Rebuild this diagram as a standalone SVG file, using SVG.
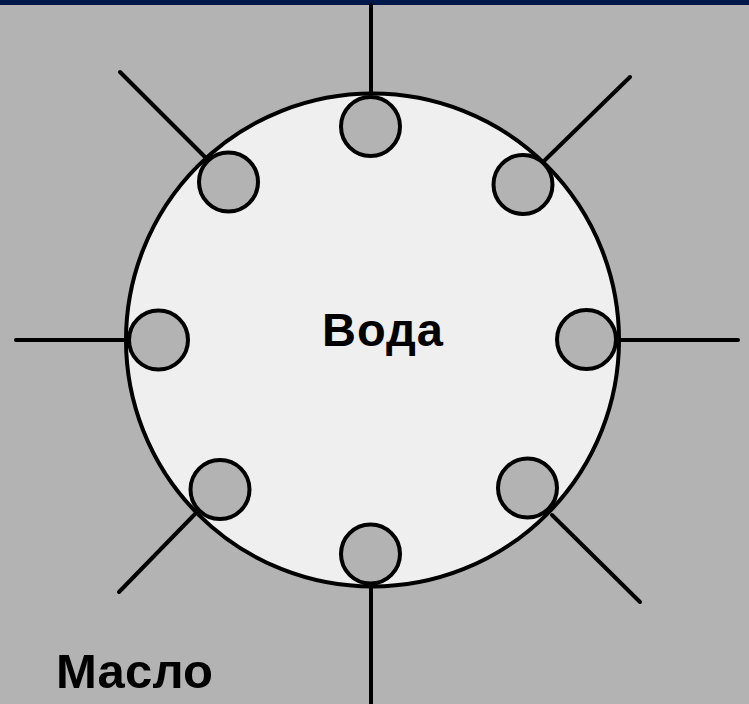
<svg xmlns="http://www.w3.org/2000/svg" width="749" height="704" viewBox="0 0 749 704">
<style>
.ln{stroke:#000;stroke-width:4;fill:none;stroke-linecap:round}
.sm{fill:#b3b3b3;stroke:#000;stroke-width:4}
.t{font-family:"Liberation Sans",Arial,sans-serif;font-weight:bold;fill:#000}
</style>
<rect x="0" y="0" width="749" height="704" fill="#b3b3b3"/>
<rect x="0" y="0" width="749" height="5" fill="#00174a"/>
<g id="connectors">
<line class="ln" x1="371" y1="5" x2="371" y2="95"/>
<line class="ln" x1="371" y1="586" x2="371" y2="704"/>
<line class="ln" x1="16" y1="340" x2="126" y2="340"/>
<line class="ln" x1="619" y1="340" x2="738" y2="340"/>
<line class="ln" x1="120" y1="72" x2="205" y2="157"/>
<line class="ln" x1="630" y1="77" x2="545" y2="160"/>
<line class="ln" x1="119" y1="592" x2="195" y2="514"/>
<line class="ln" x1="552" y1="515" x2="640" y2="602"/>
</g>
<g id="water">
<circle cx="372.5" cy="340" r="246.5" fill="#efefef" stroke="#000" stroke-width="4"/>
<text class="t" x="322" y="346" font-size="47" textLength="121">Вода</text>
</g>
<g id="p-top"><circle class="sm" cx="370.5" cy="126.5" r="29.5"/></g>
<g id="p-bottom"><circle class="sm" cx="370.5" cy="554" r="29.5"/></g>
<g id="p-left"><circle class="sm" cx="158.5" cy="340" r="29.5"/></g>
<g id="p-right"><circle class="sm" cx="586.5" cy="339.5" r="29.5"/></g>
<g id="p-ul"><circle class="sm" cx="228.5" cy="182" r="29.5"/></g>
<g id="p-ur"><circle class="sm" cx="523" cy="184.5" r="29.5"/></g>
<g id="p-ll"><circle class="sm" cx="220" cy="489.5" r="29.5"/></g>
<g id="p-lr"><circle class="sm" cx="527.5" cy="488" r="29.5"/></g>
<g id="oil"><text class="t" x="56" y="688" font-size="49" textLength="157">Масло</text></g>
</svg>
